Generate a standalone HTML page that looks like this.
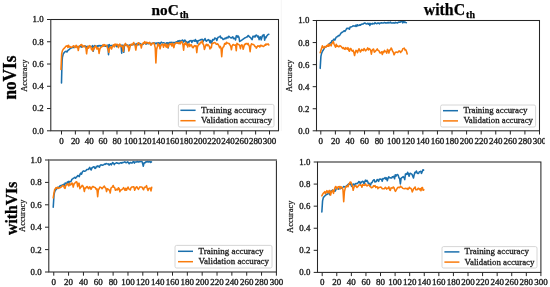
<!DOCTYPE html>
<html><head><meta charset="utf-8"><title>Accuracy curves</title>
<style>
html,body{margin:0;padding:0;background:#fff;}
body{width:550px;height:287px;overflow:hidden;font-family:"Liberation Serif",serif;}
svg{display:block;}
.tk{stroke:#262626;stroke-width:1.0;}
.tl{font-family:"Liberation Serif",serif;font-size:8.4px;fill:#1c1c1c;stroke:#1c1c1c;stroke-width:0.34px;}
.lg{font-family:"Liberation Serif",serif;font-size:8.2px;fill:#1c1c1c;stroke:#1c1c1c;stroke-width:0.28px;}
.yl{font-family:"Liberation Serif",serif;font-size:7.8px;fill:#1c1c1c;stroke:#1c1c1c;stroke-width:0.2px;}
.tt{font-family:"Liberation Serif",serif;font-weight:bold;font-size:15.3px;fill:#000;stroke:#000;stroke-width:0.25px;}
.sub{font-size:10px;}
.sd{font-family:"Liberation Serif",serif;font-weight:bold;font-size:17px;fill:#000;stroke:#000;stroke-width:0.3px;}
</style></head>
<body>
<svg width="550" height="287" viewBox="0 0 550 287">
<defs><clipPath id="c2"><rect x="282" y="0" width="262.8" height="150"/></clipPath></defs>
<rect width="550" height="287" fill="#fff"/>
<g style="opacity:0.999">
<polyline points="61.50,82.90 61.80,70.00 62.10,61.00 62.40,57.40 63.30,53.80 64.50,52.20 65.80,51.30 67.10,52.00 67.70,50.60 69.00,49.60 69.70,49.10 70.39,48.16 71.09,48.04 71.78,47.70 72.47,47.40 73.17,47.47 73.86,47.58 74.55,46.62 75.25,47.02 75.94,46.58 76.63,46.51 77.33,46.59 78.02,46.46 78.71,46.67 79.41,46.75 80.10,46.80 80.79,46.08 81.49,47.10 82.18,46.34 82.87,46.22 83.57,46.41 84.26,46.38 84.95,45.81 85.65,46.79 86.34,48.19 87.03,46.34 87.73,46.66 88.42,46.60 89.11,46.67 89.81,46.07 90.50,46.42 91.19,46.62 91.89,46.59 92.58,45.65 93.27,51.20 93.97,46.73 94.66,45.52 95.35,45.75 96.05,46.32 96.74,46.38 97.43,45.78 98.13,46.31 98.82,45.43 99.51,45.85 100.21,45.43 100.90,46.30 101.59,45.83 102.29,45.39 102.98,45.92 103.67,45.75 104.36,45.46 105.06,46.19 105.75,45.94 106.44,46.32 107.14,45.90 107.83,45.18 108.52,54.80 109.22,44.42 109.91,45.90 110.60,45.73 111.30,45.74 111.99,45.29 112.68,45.79 113.38,45.53 114.07,45.61 114.76,45.72 115.46,45.79 116.15,45.16 116.84,46.82 117.54,45.55 118.23,45.26 118.92,45.45 119.62,45.27 120.31,45.88 121.00,45.14 121.70,53.20 122.39,45.38 123.08,45.28 123.78,52.30 124.47,45.25 125.16,45.44 125.86,44.83 126.55,44.62 127.24,45.25 127.94,45.57 128.63,45.95 129.32,45.06 130.02,45.42 130.71,44.77 131.40,45.01 132.10,44.50 132.79,44.41 133.48,44.62 134.18,44.53 134.87,43.91 135.56,44.87 136.26,44.27 136.95,43.69 137.64,44.72 138.34,44.79 139.03,44.30 139.72,43.27 140.42,43.84 141.11,44.45 141.80,44.42 142.50,44.40 143.19,44.16 143.88,43.22 144.58,43.17 145.27,43.21 145.96,44.12 146.66,43.56 147.35,43.41 148.04,43.62 148.74,43.61 149.43,42.72 150.12,43.53 150.82,43.93 151.51,43.60 152.20,43.21 152.90,43.52 153.59,42.88 154.28,42.90 154.98,42.98 155.67,43.77 156.36,43.22 157.06,42.85 157.75,44.85 158.44,42.74 159.14,42.76 159.83,44.38 160.52,43.01 161.22,42.14 161.91,42.62 162.60,43.07 163.30,42.79 163.99,42.75 164.68,43.35 165.38,43.41 166.07,43.77 166.76,42.83 167.46,42.83 168.15,47.90 168.84,42.95 169.54,42.43 170.23,42.93 170.92,42.25 171.62,42.49 172.31,42.63 173.00,42.44 173.69,43.04 174.39,42.46 175.08,42.63 175.77,43.26 175.91,41.97 176.61,41.70 177.30,42.53 177.99,40.72 178.69,41.15 179.38,40.90 180.07,40.53 180.77,41.89 181.46,41.05 182.15,40.12 182.85,40.30 183.54,41.98 184.23,40.96 184.93,40.01 185.62,41.42 186.31,41.61 187.01,42.77 187.70,43.18 188.39,41.61 189.09,42.10 189.78,40.82 190.47,40.78 191.17,40.52 191.86,42.57 192.55,40.79 193.25,40.59 193.94,40.56 194.63,41.18 195.33,39.55 196.02,41.24 196.71,40.68 197.41,43.20 198.10,40.82 198.79,40.56 199.49,40.19 200.18,40.00 200.87,39.55 201.57,39.63 202.26,39.30 202.95,41.77 203.65,40.11 204.34,39.94 205.03,38.49 205.73,40.41 206.42,41.27 207.11,40.42 207.81,39.99 208.50,39.66 209.19,40.35 209.89,42.46 210.58,40.48 211.27,43.21 211.97,42.12 212.66,39.51 213.35,40.03 214.05,39.65 214.74,37.96 215.43,38.46 216.13,38.54 216.82,40.44 217.51,38.38 218.21,37.20 218.90,37.00 219.59,36.62 220.29,36.09 220.98,38.01 221.68,37.78 222.37,38.40 223.06,39.49 223.76,39.28 224.45,38.73 225.14,38.10 225.84,38.77 226.53,37.62 227.22,37.32 227.92,37.99 228.61,36.20 229.30,36.65 230.00,37.29 230.69,37.73 231.38,37.90 232.08,37.27 232.77,36.80 233.46,38.63 234.16,38.27 234.85,38.33 235.54,39.99 236.24,36.00 236.93,35.61 237.62,37.12 238.32,36.12 239.01,37.61 239.70,41.55 240.40,40.91 241.09,40.63 241.78,40.13 242.48,39.70 243.17,39.17 243.86,38.66 244.56,38.18 245.25,37.69 245.94,37.53 246.64,36.90 247.33,36.88 248.02,35.57 248.72,35.81 249.41,36.87 250.10,37.26 250.80,37.95 251.49,39.01 252.18,39.60 252.88,36.36 253.57,36.67 254.26,35.95 254.96,37.15 255.65,35.52 256.34,35.10 257.04,35.63 257.73,37.06 258.42,36.14 259.12,39.63 259.81,37.35 260.50,36.81 261.20,39.89 261.89,37.43 262.58,35.22 263.28,35.70 263.97,34.69 264.67,40.13 265.36,36.97 266.05,37.76 266.75,35.94 267.44,35.20 268.13,34.48 268.83,34.35" fill="none" stroke="#1b70ad" stroke-width="1.55" stroke-linejoin="round" stroke-linecap="round"/>
<polyline points="60.98,69.58 61.67,53.59 62.37,50.90 63.06,49.52 63.75,48.71 64.45,48.15 65.14,47.22 65.83,46.17 66.52,46.23 67.22,45.68 67.91,47.39 68.60,45.35 69.30,47.01 69.99,46.65 70.68,47.34 71.37,47.23 72.07,47.05 72.76,46.51 73.45,45.80 74.15,46.13 74.84,47.58 75.53,46.17 76.22,45.31 76.92,47.41 77.61,46.85 78.30,50.49 79.00,46.51 79.69,45.70 80.38,45.31 81.07,44.68 81.77,44.56 82.46,47.10 83.15,46.17 83.84,45.96 84.54,45.79 85.23,47.08 85.92,48.12 86.62,53.79 87.31,48.13 88.00,46.35 88.69,48.16 89.39,45.65 90.08,46.57 90.77,46.33 91.47,49.68 92.16,48.64 92.85,50.93 93.54,47.72 94.24,48.94 94.93,46.58 95.62,45.89 96.32,47.02 97.01,49.09 97.70,47.77 98.39,48.39 99.09,53.36 99.78,49.39 100.47,47.91 101.16,47.23 101.86,46.68 102.55,46.35 103.24,44.64 103.94,46.06 104.63,44.67 105.32,45.11 106.01,45.40 106.71,45.33 107.40,47.82 108.09,49.26 108.79,52.27 109.48,48.49 110.17,47.28 110.86,46.92 111.56,49.07 112.25,46.99 112.94,45.68 113.64,44.73 114.33,46.93 115.02,43.98 115.71,45.11 116.41,44.40 117.10,44.18 117.79,45.06 118.49,47.63 119.18,44.98 119.87,44.07 120.56,46.25 121.26,46.41 121.95,45.69 122.64,47.51 123.33,51.40 124.03,45.56 124.72,44.76 125.41,43.38 126.11,45.18 126.80,44.94 127.49,46.72 128.18,45.61 128.88,51.04 129.57,48.91 130.26,45.82 130.96,44.31 131.65,44.35 132.34,45.00 133.03,43.59 133.73,42.50 134.42,44.26 135.11,45.69 135.81,50.02 136.50,46.12 137.19,44.36 137.88,43.17 138.58,42.75 139.27,43.67 139.96,44.98 140.66,44.75 141.35,47.97 142.04,44.37 142.73,43.74 143.43,42.68 144.12,43.33 144.81,41.65 145.50,43.65 146.20,42.29 146.89,42.69 147.58,42.56 148.28,43.15 148.97,43.25 149.66,42.32 150.35,44.39 151.05,45.23 151.74,44.04 152.43,43.20 153.13,43.32 153.82,42.87 154.51,44.60 155.20,47.79 155.90,63.03 156.59,49.47 157.28,46.78 157.98,43.54 158.67,45.70 159.36,44.92 160.05,48.82 160.75,46.09 161.44,44.65 162.13,44.09 162.83,44.50 163.52,47.31 164.21,44.69 164.90,43.82 165.60,45.78 166.29,47.08 166.98,44.29 167.67,47.56 168.37,46.82 169.06,44.36 169.75,43.88 170.45,44.54 171.14,43.80 171.83,46.06 172.52,43.25 173.22,45.71 173.91,47.64 174.60,44.01 175.30,43.73 175.99,42.62 176.68,42.65 177.37,43.20 178.07,42.77 178.76,43.61 179.45,42.73 180.15,43.92 180.84,42.09 181.53,41.57 182.22,42.60 182.92,44.71 183.61,50.19 184.30,43.77 185.00,44.29 185.69,42.24 186.38,44.87 187.07,44.07 187.77,47.06 188.46,44.33 189.15,43.87 189.84,46.56 190.54,44.97 191.23,44.69 191.92,46.08 192.62,47.60 193.31,47.68 194.00,46.07 194.69,45.56 195.39,46.14 196.08,45.69 196.77,52.60 197.47,46.99 198.16,45.30 198.85,43.92 199.54,44.38 200.24,42.86 200.93,42.14 201.62,42.76 202.32,40.92 203.01,44.03 203.70,45.04 204.39,49.46 205.09,47.42 205.78,45.14 206.47,44.25 207.17,45.76 207.86,44.49 208.55,45.68 209.24,46.08 209.94,48.90 210.63,47.42 211.32,47.81 212.01,43.38 212.71,43.44 213.40,43.08 214.09,42.50 214.79,42.73 215.48,42.95 216.17,44.13 216.86,44.30 217.56,43.80 218.25,44.73 218.94,45.98 219.64,47.72 220.33,46.43 221.02,48.13 221.71,56.71 222.41,48.65 223.10,47.22 223.79,46.67 224.49,43.94 225.18,43.31 225.87,44.20 226.56,42.28 227.26,43.10 227.95,43.16 228.64,43.66 229.34,43.54 230.03,45.18 230.72,46.19 231.41,49.73 232.11,45.83 232.80,44.78 233.49,44.48 234.18,45.25 234.88,45.29 235.57,44.90 236.26,50.68 236.96,43.36 237.65,43.83 238.34,44.33 239.03,44.80 239.73,45.51 240.42,48.69 241.11,45.35 241.81,44.72 242.50,45.86 243.19,49.25 243.88,46.77 244.58,44.33 245.27,44.58 245.96,43.51 246.66,43.59 247.35,44.34 248.04,43.31 248.73,45.18 249.43,46.34 250.12,51.77 250.81,45.72 251.51,43.69 252.20,44.25 252.89,44.49 253.58,44.45 254.28,45.37 254.97,46.50 255.66,46.44 256.35,48.10 257.05,47.05 257.74,45.79 258.43,46.23 259.13,45.88 259.82,47.01 260.51,45.24 261.20,46.00 261.90,45.40 262.59,46.16 263.28,46.50 263.98,46.22 264.67,44.96 265.36,45.29 266.05,43.93 266.75,44.67 267.44,44.23 268.13,43.84 268.83,45.01" fill="none" stroke="#f97b0c" stroke-width="1.55" stroke-linejoin="round" stroke-linecap="round"/>
<rect x="178.40" y="104.40" width="95.60" height="22.60" rx="1.6" ry="1.6" fill="#fff" fill-opacity="0.8" stroke="#cccccc" stroke-width="0.8"/>
<line x1="180.40" y1="110.30" x2="195.60" y2="110.30" stroke="#1b70ad" stroke-width="1.5"/>
<line x1="180.40" y1="120.70" x2="195.60" y2="120.70" stroke="#f97b0c" stroke-width="1.5"/>
<text x="201.00" y="112.70" class="lg" textLength="65.40" lengthAdjust="spacingAndGlyphs">Training accuracy</text>
<text x="201.00" y="122.90" class="lg" textLength="71.00" lengthAdjust="spacingAndGlyphs">Validation accuracy</text>
<rect x="50.80" y="19.50" width="227.70" height="111.30" fill="none" stroke="#262626" stroke-width="1.05"/>
<line x1="47.00" y1="130.80" x2="50.80" y2="130.80" class="tk"/>
<text transform="translate(43.60,133.75) scale(1.05,1)" class="tl" text-anchor="end">0.0</text>
<line x1="47.00" y1="108.54" x2="50.80" y2="108.54" class="tk"/>
<text transform="translate(43.60,111.49) scale(1.05,1)" class="tl" text-anchor="end">0.2</text>
<line x1="47.00" y1="86.28" x2="50.80" y2="86.28" class="tk"/>
<text transform="translate(43.60,89.23) scale(1.05,1)" class="tl" text-anchor="end">0.4</text>
<line x1="47.00" y1="64.02" x2="50.80" y2="64.02" class="tk"/>
<text transform="translate(43.60,66.97) scale(1.05,1)" class="tl" text-anchor="end">0.6</text>
<line x1="47.00" y1="41.76" x2="50.80" y2="41.76" class="tk"/>
<text transform="translate(43.60,44.71) scale(1.05,1)" class="tl" text-anchor="end">0.8</text>
<line x1="47.00" y1="19.50" x2="50.80" y2="19.50" class="tk"/>
<text transform="translate(43.60,22.45) scale(1.05,1)" class="tl" text-anchor="end">1.0</text>
<line x1="61.50" y1="130.80" x2="61.50" y2="134.50" class="tk"/>
<text transform="translate(61.50,143.50) scale(1.07,1)" class="tl" text-anchor="middle">0</text>
<line x1="75.37" y1="130.80" x2="75.37" y2="134.50" class="tk"/>
<text transform="translate(75.37,143.50) scale(1.07,1)" class="tl" text-anchor="middle">20</text>
<line x1="89.23" y1="130.80" x2="89.23" y2="134.50" class="tk"/>
<text transform="translate(89.23,143.50) scale(1.07,1)" class="tl" text-anchor="middle">40</text>
<line x1="103.10" y1="130.80" x2="103.10" y2="134.50" class="tk"/>
<text transform="translate(103.10,143.50) scale(1.07,1)" class="tl" text-anchor="middle">60</text>
<line x1="116.97" y1="130.80" x2="116.97" y2="134.50" class="tk"/>
<text transform="translate(116.97,143.50) scale(1.07,1)" class="tl" text-anchor="middle">80</text>
<line x1="130.83" y1="130.80" x2="130.83" y2="134.50" class="tk"/>
<text transform="translate(130.83,143.50) scale(1.07,1)" class="tl" text-anchor="middle">100</text>
<line x1="144.70" y1="130.80" x2="144.70" y2="134.50" class="tk"/>
<text transform="translate(144.70,143.50) scale(1.07,1)" class="tl" text-anchor="middle">120</text>
<line x1="158.57" y1="130.80" x2="158.57" y2="134.50" class="tk"/>
<text transform="translate(158.57,143.50) scale(1.07,1)" class="tl" text-anchor="middle">140</text>
<line x1="172.43" y1="130.80" x2="172.43" y2="134.50" class="tk"/>
<text transform="translate(172.43,143.50) scale(1.07,1)" class="tl" text-anchor="middle">160</text>
<line x1="186.30" y1="130.80" x2="186.30" y2="134.50" class="tk"/>
<text transform="translate(186.30,143.50) scale(1.07,1)" class="tl" text-anchor="middle">180</text>
<line x1="200.17" y1="130.80" x2="200.17" y2="134.50" class="tk"/>
<text transform="translate(200.17,143.50) scale(1.07,1)" class="tl" text-anchor="middle">200</text>
<line x1="214.03" y1="130.80" x2="214.03" y2="134.50" class="tk"/>
<text transform="translate(214.03,143.50) scale(1.07,1)" class="tl" text-anchor="middle">220</text>
<line x1="227.90" y1="130.80" x2="227.90" y2="134.50" class="tk"/>
<text transform="translate(227.90,143.50) scale(1.07,1)" class="tl" text-anchor="middle">240</text>
<line x1="241.77" y1="130.80" x2="241.77" y2="134.50" class="tk"/>
<text transform="translate(241.77,143.50) scale(1.07,1)" class="tl" text-anchor="middle">260</text>
<line x1="255.63" y1="130.80" x2="255.63" y2="134.50" class="tk"/>
<text transform="translate(255.63,143.50) scale(1.07,1)" class="tl" text-anchor="middle">280</text>
<line x1="269.50" y1="130.80" x2="269.50" y2="134.50" class="tk"/>
<text transform="translate(269.50,143.50) scale(1.07,1)" class="tl" text-anchor="middle">300</text>
<text transform="translate(27.00,75.60) rotate(-90)" class="yl" text-anchor="middle" textLength="32.3" lengthAdjust="spacingAndGlyphs">Accuracy</text>
<g clip-path="url(#c2)"><polyline points="320.18,68.35 320.91,56.33 321.64,53.19 322.38,51.45 323.11,50.23 323.84,49.18 324.57,47.66 325.30,47.00 326.03,46.63 326.76,45.73 327.49,45.67 328.22,46.13 328.95,44.05 329.68,43.65 330.41,42.66 331.14,42.79 331.87,40.87 332.60,40.79 333.33,39.87 334.06,39.17 334.79,40.07 335.52,38.56 336.25,37.17 336.98,36.83 337.71,36.54 338.45,35.44 339.18,35.68 339.91,34.95 340.64,33.72 341.37,32.60 342.10,32.45 342.83,31.90 343.56,31.27 344.29,30.73 345.02,31.34 345.75,30.17 346.48,28.90 347.21,28.17 347.94,28.53 348.67,28.25 349.40,29.18 350.13,27.09 350.86,26.96 351.59,26.77 352.32,26.40 353.05,25.84 353.78,25.99 354.51,25.94 355.25,26.40 355.98,24.99 356.71,26.43 357.44,24.71 358.17,25.49 358.90,25.52 359.63,24.83 360.36,25.26 361.09,24.37 361.82,24.36 362.55,23.96 363.28,23.97 364.01,23.25 364.74,22.96 365.47,23.19 366.20,23.93 366.93,23.84 367.66,23.25 368.39,24.15 369.12,23.42 369.85,25.56 370.58,23.47 371.32,23.82 372.05,24.12 372.78,23.35 373.51,23.76 374.24,23.85 374.97,22.68 375.70,23.29 376.43,23.69 377.16,23.45 377.89,23.04 378.62,22.99 379.35,23.86 380.08,23.05 380.81,22.94 381.54,22.81 382.27,22.98 383.00,22.93 383.73,22.96 384.46,22.50 385.19,22.91 385.92,22.68 386.65,23.06 387.39,22.88 388.12,22.23 388.85,22.98 389.58,22.54 390.31,22.05 391.04,22.88 391.77,23.08 392.50,22.95 393.23,22.70 393.96,23.07 394.69,23.10 395.42,22.39 396.15,22.71 396.88,22.74 397.61,22.99 398.34,22.20 399.07,21.96 399.80,22.22 400.53,21.92 401.26,21.25 401.99,21.24 402.72,22.88 403.45,21.00 404.19,22.44 404.92,22.06 405.65,22.43 406.38,22.76" fill="none" stroke="#1b70ad" stroke-width="1.55" stroke-linejoin="round" stroke-linecap="round"/>
<polyline points="320.18,52.66 320.92,50.25 321.65,48.06 322.38,45.75 323.11,47.21 323.84,48.20 324.57,46.54 325.30,46.81 326.03,47.15 326.77,45.45 327.50,46.23 328.23,44.32 328.96,46.08 329.69,44.38 330.42,44.68 331.15,45.84 331.89,43.16 332.62,42.91 333.35,41.46 334.08,44.24 334.81,45.67 335.54,47.29 336.27,44.23 337.00,46.31 337.74,45.89 338.47,46.68 339.20,46.63 339.93,45.65 340.66,46.11 341.39,46.79 342.12,47.66 342.86,48.55 343.59,47.59 344.32,48.99 345.05,49.36 345.78,47.67 346.51,48.45 347.24,49.18 347.97,47.62 348.71,50.22 349.44,51.29 350.17,48.54 350.90,48.49 351.63,50.51 352.36,51.11 353.09,50.20 353.83,52.40 354.56,55.48 355.29,52.21 356.02,50.38 356.75,50.72 357.48,52.66 358.21,50.57 358.95,48.69 359.68,50.09 360.41,51.93 361.14,50.91 361.87,49.36 362.60,50.31 363.33,50.59 364.06,48.59 364.80,49.45 365.53,50.92 366.26,50.10 366.99,49.14 367.72,47.92 368.45,49.92 369.18,48.61 369.92,49.14 370.65,50.36 371.38,54.12 372.11,50.35 372.84,49.41 373.57,49.04 374.30,52.14 375.03,51.60 375.77,50.86 376.50,49.87 377.23,48.94 377.96,50.28 378.69,50.44 379.42,51.77 380.15,53.06 380.89,52.73 381.62,51.87 382.35,54.50 383.08,51.59 383.81,52.35 384.54,50.41 385.27,51.59 386.00,51.61 386.74,53.22 387.47,49.40 388.20,50.53 388.93,53.10 389.66,50.12 390.39,50.01 391.12,47.94 391.86,49.20 392.59,51.32 393.32,52.19 394.05,54.79 394.78,53.41 395.51,52.20 396.24,52.12 396.97,52.22 397.71,52.51 398.44,51.62 399.17,50.85 399.90,51.19 400.63,52.55 401.36,51.39 402.09,50.80 402.83,48.74 403.56,48.53 404.29,48.09 405.02,50.11 405.75,49.69 406.48,51.38 407.21,54.06" fill="none" stroke="#f97b0c" stroke-width="1.55" stroke-linejoin="round" stroke-linecap="round"/>
<rect x="440.60" y="105.00" width="95.00" height="22.00" rx="1.6" ry="1.6" fill="#fff" fill-opacity="0.8" stroke="#cccccc" stroke-width="0.8"/>
<line x1="443.00" y1="110.70" x2="458.00" y2="110.70" stroke="#1b70ad" stroke-width="1.5"/>
<line x1="443.00" y1="120.90" x2="458.00" y2="120.90" stroke="#f97b0c" stroke-width="1.5"/>
<text x="463.40" y="112.90" class="lg" textLength="64.00" lengthAdjust="spacingAndGlyphs">Training accuracy</text>
<text x="463.40" y="123.30" class="lg" textLength="69.60" lengthAdjust="spacingAndGlyphs">Validation accuracy</text>
<rect x="316.50" y="20.50" width="223.00" height="110.30" fill="none" stroke="#262626" stroke-width="1.05"/>
<line x1="312.70" y1="130.80" x2="316.50" y2="130.80" class="tk"/>
<text transform="translate(309.30,133.75) scale(1.05,1)" class="tl" text-anchor="end">0.0</text>
<line x1="312.70" y1="108.74" x2="316.50" y2="108.74" class="tk"/>
<text transform="translate(309.30,111.69) scale(1.05,1)" class="tl" text-anchor="end">0.2</text>
<line x1="312.70" y1="86.68" x2="316.50" y2="86.68" class="tk"/>
<text transform="translate(309.30,89.63) scale(1.05,1)" class="tl" text-anchor="end">0.4</text>
<line x1="312.70" y1="64.62" x2="316.50" y2="64.62" class="tk"/>
<text transform="translate(309.30,67.57) scale(1.05,1)" class="tl" text-anchor="end">0.6</text>
<line x1="312.70" y1="42.56" x2="316.50" y2="42.56" class="tk"/>
<text transform="translate(309.30,45.51) scale(1.05,1)" class="tl" text-anchor="end">0.8</text>
<line x1="312.70" y1="20.50" x2="316.50" y2="20.50" class="tk"/>
<text transform="translate(309.30,23.45) scale(1.05,1)" class="tl" text-anchor="end">1.0</text>
<line x1="320.80" y1="130.80" x2="320.80" y2="134.50" class="tk"/>
<text transform="translate(320.80,143.50) scale(1.07,1)" class="tl" text-anchor="middle">0</text>
<line x1="335.38" y1="130.80" x2="335.38" y2="134.50" class="tk"/>
<text transform="translate(335.38,143.50) scale(1.07,1)" class="tl" text-anchor="middle">20</text>
<line x1="349.96" y1="130.80" x2="349.96" y2="134.50" class="tk"/>
<text transform="translate(349.96,143.50) scale(1.07,1)" class="tl" text-anchor="middle">40</text>
<line x1="364.54" y1="130.80" x2="364.54" y2="134.50" class="tk"/>
<text transform="translate(364.54,143.50) scale(1.07,1)" class="tl" text-anchor="middle">60</text>
<line x1="379.12" y1="130.80" x2="379.12" y2="134.50" class="tk"/>
<text transform="translate(379.12,143.50) scale(1.07,1)" class="tl" text-anchor="middle">80</text>
<line x1="393.70" y1="130.80" x2="393.70" y2="134.50" class="tk"/>
<text transform="translate(393.70,143.50) scale(1.07,1)" class="tl" text-anchor="middle">100</text>
<line x1="408.28" y1="130.80" x2="408.28" y2="134.50" class="tk"/>
<text transform="translate(408.28,143.50) scale(1.07,1)" class="tl" text-anchor="middle">120</text>
<line x1="422.86" y1="130.80" x2="422.86" y2="134.50" class="tk"/>
<text transform="translate(422.86,143.50) scale(1.07,1)" class="tl" text-anchor="middle">140</text>
<line x1="437.44" y1="130.80" x2="437.44" y2="134.50" class="tk"/>
<text transform="translate(437.44,143.50) scale(1.07,1)" class="tl" text-anchor="middle">160</text>
<line x1="452.02" y1="130.80" x2="452.02" y2="134.50" class="tk"/>
<text transform="translate(452.02,143.50) scale(1.07,1)" class="tl" text-anchor="middle">180</text>
<line x1="466.60" y1="130.80" x2="466.60" y2="134.50" class="tk"/>
<text transform="translate(466.60,143.50) scale(1.07,1)" class="tl" text-anchor="middle">200</text>
<line x1="481.18" y1="130.80" x2="481.18" y2="134.50" class="tk"/>
<text transform="translate(481.18,143.50) scale(1.07,1)" class="tl" text-anchor="middle">220</text>
<line x1="495.76" y1="130.80" x2="495.76" y2="134.50" class="tk"/>
<text transform="translate(495.76,143.50) scale(1.07,1)" class="tl" text-anchor="middle">240</text>
<line x1="510.34" y1="130.80" x2="510.34" y2="134.50" class="tk"/>
<text transform="translate(510.34,143.50) scale(1.07,1)" class="tl" text-anchor="middle">260</text>
<line x1="524.92" y1="130.80" x2="524.92" y2="134.50" class="tk"/>
<text transform="translate(524.92,143.50) scale(1.07,1)" class="tl" text-anchor="middle">280</text>
<line x1="539.50" y1="130.80" x2="539.50" y2="134.50" class="tk"/>
<text transform="translate(539.50,143.50) scale(1.07,1)" class="tl" text-anchor="middle">300</text>
<text transform="translate(292.00,75.90) rotate(-90)" class="yl" text-anchor="middle" textLength="32.3" lengthAdjust="spacingAndGlyphs">Accuracy</text></g>
<polyline points="53.23,207.28 53.97,195.19 54.72,191.55 55.46,190.31 56.21,189.28 56.95,188.63 57.70,187.54 58.44,187.29 59.18,187.18 59.93,185.97 60.67,185.55 61.42,185.62 62.16,185.00 62.91,184.91 63.65,184.27 64.40,185.22 65.14,183.07 65.89,183.22 66.63,183.92 67.38,181.91 68.12,183.05 68.86,181.31 69.61,182.19 70.35,181.61 71.10,181.27 71.84,179.40 72.59,178.85 73.33,178.22 74.08,177.87 74.82,177.24 75.57,178.21 76.31,177.29 77.05,176.59 77.80,175.45 78.54,175.97 79.29,176.60 80.03,174.26 80.78,173.05 81.52,174.22 82.27,172.13 83.01,171.21 83.76,170.89 84.50,171.20 85.25,170.93 85.99,170.59 86.73,169.53 87.48,169.59 88.22,169.43 88.97,168.63 89.71,167.35 90.46,169.17 91.20,169.94 91.95,167.79 92.69,167.45 93.44,166.77 94.18,166.75 94.92,168.48 95.67,168.35 96.41,166.38 97.16,166.69 97.90,165.88 98.65,166.40 99.39,167.28 100.14,165.36 100.88,164.88 101.63,165.03 102.37,165.31 103.12,165.10 103.86,164.69 104.60,164.03 105.35,164.36 106.09,163.47 106.84,163.73 107.58,163.93 108.33,163.86 109.07,165.18 109.82,164.19 110.56,163.78 111.31,164.90 112.05,163.53 112.79,162.58 113.54,163.44 114.28,164.58 115.03,163.41 115.77,163.13 116.52,162.72 117.26,163.17 118.01,163.11 118.75,163.60 119.50,163.52 120.24,162.84 120.99,162.64 121.73,163.25 122.47,162.64 123.22,162.54 123.96,162.26 124.71,161.87 125.45,162.24 126.20,162.75 126.94,162.35 127.69,161.84 128.43,162.69 129.18,163.76 129.92,162.78 130.66,162.47 131.41,163.01 132.15,162.94 132.90,161.84 133.64,161.46 134.39,163.07 135.13,162.02 135.88,162.05 136.62,161.91 137.37,161.01 138.11,162.09 138.86,161.91 139.60,161.37 140.34,161.73 141.09,161.22 141.83,161.27 142.58,163.42 143.32,166.20 144.07,162.71 144.81,163.07 145.56,162.00 146.30,161.79 147.05,162.03 147.79,161.04 148.53,161.93 149.28,161.89 150.02,161.41 150.77,162.45 151.51,161.90" fill="none" stroke="#1b70ad" stroke-width="1.55" stroke-linejoin="round" stroke-linecap="round"/>
<polyline points="53.23,197.87 53.97,193.12 54.71,189.48 55.45,188.54 56.19,187.52 56.93,188.09 57.67,187.37 58.41,188.37 59.15,188.01 59.89,187.76 60.63,187.28 61.37,186.77 62.11,186.18 62.86,185.46 63.60,185.64 64.34,187.79 65.08,188.32 65.82,185.23 66.56,185.01 67.30,183.92 68.04,184.61 68.78,185.94 69.52,183.22 70.26,184.98 71.00,184.59 71.74,183.05 72.48,183.43 73.22,187.11 73.96,184.31 74.70,183.28 75.44,182.49 76.19,181.69 76.93,182.20 77.67,186.69 78.41,183.58 79.15,183.35 79.89,188.65 80.63,187.25 81.37,186.88 82.11,185.32 82.85,185.82 83.59,187.54 84.33,191.48 85.07,187.97 85.81,188.13 86.55,186.80 87.29,186.59 88.03,188.02 88.77,188.79 89.52,186.87 90.26,187.20 91.00,189.37 91.74,187.96 92.48,186.59 93.22,186.52 93.96,187.31 94.70,187.36 95.44,187.74 96.18,189.39 96.92,188.72 97.66,196.63 98.40,189.96 99.14,188.76 99.88,187.06 100.62,187.38 101.36,187.71 102.10,188.71 102.85,187.65 103.59,186.74 104.33,186.09 105.07,187.60 105.81,188.14 106.55,191.60 107.29,188.75 108.03,189.11 108.77,189.84 109.51,190.12 110.25,193.00 110.99,188.13 111.73,187.49 112.47,186.91 113.21,185.44 113.95,187.35 114.69,187.65 115.43,190.31 116.18,189.82 116.92,189.17 117.66,189.85 118.40,187.72 119.14,188.46 119.88,191.78 120.62,189.93 121.36,189.99 122.10,189.35 122.84,188.72 123.58,187.63 124.32,189.02 125.06,190.42 125.80,188.24 126.54,190.15 127.28,188.48 128.02,187.00 128.76,188.76 129.51,189.32 130.25,189.92 130.99,187.80 131.73,187.07 132.47,186.96 133.21,186.71 133.95,187.07 134.69,190.33 135.43,188.45 136.17,187.13 136.91,186.77 137.65,188.39 138.39,189.37 139.13,188.10 139.87,186.84 140.61,186.91 141.35,187.05 142.10,187.20 142.84,188.79 143.58,189.80 144.32,187.39 145.06,187.43 145.80,186.86 146.54,185.68 147.28,188.63 148.02,190.52 148.76,188.51 149.50,188.30 150.24,188.04 150.98,190.90 151.72,187.32" fill="none" stroke="#f97b0c" stroke-width="1.55" stroke-linejoin="round" stroke-linecap="round"/>
<rect x="175.00" y="245.40" width="97.00" height="22.60" rx="1.6" ry="1.6" fill="#fff" fill-opacity="0.8" stroke="#cccccc" stroke-width="0.8"/>
<line x1="178.00" y1="251.30" x2="193.00" y2="251.30" stroke="#1b70ad" stroke-width="1.5"/>
<line x1="178.00" y1="261.70" x2="193.00" y2="261.70" stroke="#f97b0c" stroke-width="1.5"/>
<text x="198.60" y="253.70" class="lg" textLength="64.80" lengthAdjust="spacingAndGlyphs">Training accuracy</text>
<text x="198.60" y="263.90" class="lg" textLength="70.40" lengthAdjust="spacingAndGlyphs">Validation accuracy</text>
<rect x="48.80" y="160.00" width="227.60" height="112.00" fill="none" stroke="#262626" stroke-width="1.05"/>
<line x1="48.30" y1="160.00" x2="276.90" y2="160.00" stroke="#8a8a8a" stroke-width="1.3"/>
<line x1="45.00" y1="272.00" x2="48.80" y2="272.00" class="tk"/>
<text transform="translate(41.60,274.95) scale(1.05,1)" class="tl" text-anchor="end">0.0</text>
<line x1="45.00" y1="249.60" x2="48.80" y2="249.60" class="tk"/>
<text transform="translate(41.60,252.55) scale(1.05,1)" class="tl" text-anchor="end">0.2</text>
<line x1="45.00" y1="227.20" x2="48.80" y2="227.20" class="tk"/>
<text transform="translate(41.60,230.15) scale(1.05,1)" class="tl" text-anchor="end">0.4</text>
<line x1="45.00" y1="204.80" x2="48.80" y2="204.80" class="tk"/>
<text transform="translate(41.60,207.75) scale(1.05,1)" class="tl" text-anchor="end">0.6</text>
<line x1="45.00" y1="182.40" x2="48.80" y2="182.40" class="tk"/>
<text transform="translate(41.60,185.35) scale(1.05,1)" class="tl" text-anchor="end">0.8</text>
<line x1="45.00" y1="160.00" x2="48.80" y2="160.00" class="tk"/>
<text transform="translate(41.60,162.95) scale(1.05,1)" class="tl" text-anchor="end">1.0</text>
<line x1="53.75" y1="272.00" x2="53.75" y2="275.70" class="tk"/>
<text transform="translate(53.75,284.70) scale(1.07,1)" class="tl" text-anchor="middle">0</text>
<line x1="68.59" y1="272.00" x2="68.59" y2="275.70" class="tk"/>
<text transform="translate(68.59,284.70) scale(1.07,1)" class="tl" text-anchor="middle">20</text>
<line x1="83.44" y1="272.00" x2="83.44" y2="275.70" class="tk"/>
<text transform="translate(83.44,284.70) scale(1.07,1)" class="tl" text-anchor="middle">40</text>
<line x1="98.28" y1="272.00" x2="98.28" y2="275.70" class="tk"/>
<text transform="translate(98.28,284.70) scale(1.07,1)" class="tl" text-anchor="middle">60</text>
<line x1="113.12" y1="272.00" x2="113.12" y2="275.70" class="tk"/>
<text transform="translate(113.12,284.70) scale(1.07,1)" class="tl" text-anchor="middle">80</text>
<line x1="127.97" y1="272.00" x2="127.97" y2="275.70" class="tk"/>
<text transform="translate(127.97,284.70) scale(1.07,1)" class="tl" text-anchor="middle">100</text>
<line x1="142.81" y1="272.00" x2="142.81" y2="275.70" class="tk"/>
<text transform="translate(142.81,284.70) scale(1.07,1)" class="tl" text-anchor="middle">120</text>
<line x1="157.65" y1="272.00" x2="157.65" y2="275.70" class="tk"/>
<text transform="translate(157.65,284.70) scale(1.07,1)" class="tl" text-anchor="middle">140</text>
<line x1="172.50" y1="272.00" x2="172.50" y2="275.70" class="tk"/>
<text transform="translate(172.50,284.70) scale(1.07,1)" class="tl" text-anchor="middle">160</text>
<line x1="187.34" y1="272.00" x2="187.34" y2="275.70" class="tk"/>
<text transform="translate(187.34,284.70) scale(1.07,1)" class="tl" text-anchor="middle">180</text>
<line x1="202.18" y1="272.00" x2="202.18" y2="275.70" class="tk"/>
<text transform="translate(202.18,284.70) scale(1.07,1)" class="tl" text-anchor="middle">200</text>
<line x1="217.03" y1="272.00" x2="217.03" y2="275.70" class="tk"/>
<text transform="translate(217.03,284.70) scale(1.07,1)" class="tl" text-anchor="middle">220</text>
<line x1="231.87" y1="272.00" x2="231.87" y2="275.70" class="tk"/>
<text transform="translate(231.87,284.70) scale(1.07,1)" class="tl" text-anchor="middle">240</text>
<line x1="246.71" y1="272.00" x2="246.71" y2="275.70" class="tk"/>
<text transform="translate(246.71,284.70) scale(1.07,1)" class="tl" text-anchor="middle">260</text>
<line x1="261.56" y1="272.00" x2="261.56" y2="275.70" class="tk"/>
<text transform="translate(261.56,284.70) scale(1.07,1)" class="tl" text-anchor="middle">280</text>
<line x1="276.40" y1="272.00" x2="276.40" y2="275.70" class="tk"/>
<text transform="translate(276.40,284.70) scale(1.07,1)" class="tl" text-anchor="middle">300</text>
<text transform="translate(24.50,215.80) rotate(-90)" class="yl" text-anchor="middle" textLength="32.3" lengthAdjust="spacingAndGlyphs">Accuracy</text>
<polyline points="321.84,212.04 322.56,200.84 323.29,197.77 324.02,196.75 324.75,196.02 325.47,195.40 326.20,194.53 326.93,194.38 327.65,193.97 328.38,193.47 329.11,193.36 329.84,194.78 330.56,191.22 331.29,192.12 332.02,190.37 332.75,190.10 333.47,191.12 334.20,191.22 334.93,191.28 335.65,190.22 336.38,188.19 337.11,188.02 337.84,188.68 338.56,189.10 339.29,188.49 340.02,188.40 340.75,188.51 341.47,187.61 342.20,187.97 342.93,187.29 343.65,186.49 344.38,186.88 345.11,186.85 345.84,186.83 346.56,185.59 347.29,185.62 348.02,184.56 348.75,183.89 349.47,184.29 350.20,183.29 350.93,184.74 351.65,186.35 352.38,185.01 353.11,184.02 353.84,184.49 354.56,186.14 355.29,183.76 356.02,183.53 356.74,183.61 357.47,183.45 358.20,182.58 358.93,181.54 359.65,182.01 360.38,184.10 361.11,182.10 361.84,182.11 362.56,181.28 363.29,181.60 364.02,183.88 364.74,181.80 365.47,180.14 366.20,181.44 366.93,180.44 367.65,181.38 368.38,183.52 369.11,183.22 369.84,185.35 370.56,185.03 371.29,182.76 372.02,182.72 372.74,181.01 373.47,180.16 374.20,179.73 374.93,181.92 375.65,181.74 376.38,181.26 377.11,179.56 377.84,179.89 378.56,181.41 379.29,179.18 380.02,179.07 380.74,179.33 381.47,179.32 382.20,181.28 382.93,178.56 383.65,178.82 384.38,178.40 385.11,177.60 385.84,179.21 386.56,177.83 387.29,180.81 388.02,178.30 388.74,176.80 389.47,177.71 390.20,177.76 390.93,178.08 391.65,178.08 392.38,176.67 393.11,176.90 393.83,176.21 394.56,178.76 395.29,174.69 396.02,176.17 396.74,174.88 397.47,174.44 398.20,175.23 398.93,177.86 399.65,178.53 400.38,183.87 401.11,178.33 401.83,177.65 402.56,177.30 403.29,176.65 404.02,177.48 404.74,179.60 405.47,173.90 406.20,173.81 406.93,174.37 407.65,172.32 408.38,173.92 409.11,176.33 409.83,173.60 410.56,173.33 411.29,173.80 412.02,174.28 412.74,176.28 413.47,177.99 414.20,174.66 414.93,172.29 415.65,172.69 416.38,170.98 417.11,172.87 417.83,173.49 418.56,173.47 419.29,171.85 420.02,171.63 420.74,171.27 421.47,173.38 422.20,171.64 422.93,169.70 423.65,170.18" fill="none" stroke="#1b70ad" stroke-width="1.55" stroke-linejoin="round" stroke-linecap="round"/>
<polyline points="321.84,195.83 322.57,194.37 323.29,193.23 324.02,192.62 324.75,191.63 325.48,193.68 326.21,192.01 326.94,190.59 327.67,192.57 328.40,192.78 329.12,190.45 329.85,190.59 330.58,195.06 331.31,192.24 332.04,191.27 332.77,190.07 333.50,193.34 334.23,190.17 334.95,187.66 335.68,186.51 336.41,187.34 337.14,189.02 337.87,187.01 338.60,186.73 339.33,186.60 340.06,188.84 340.79,186.67 341.51,187.37 342.24,187.79 342.97,189.81 343.70,201.73 344.43,191.69 345.16,188.57 345.89,186.54 346.62,186.67 347.34,185.90 348.07,186.71 348.80,184.21 349.53,183.31 350.26,181.92 350.99,182.15 351.72,184.40 352.45,186.22 353.17,190.24 353.90,187.27 354.63,186.43 355.36,185.43 356.09,185.90 356.82,187.52 357.55,186.97 358.28,186.12 359.01,184.88 359.73,184.94 360.46,185.34 361.19,185.39 361.92,187.19 362.65,184.49 363.38,185.12 364.11,185.40 364.84,184.98 365.56,183.86 366.29,185.34 367.02,185.97 367.75,185.32 368.48,185.09 369.21,185.00 369.94,186.49 370.67,186.66 371.39,187.77 372.12,187.45 372.85,187.11 373.58,185.72 374.31,186.22 375.04,185.54 375.77,187.45 376.50,186.79 377.23,186.82 377.95,188.65 378.68,187.40 379.41,187.58 380.14,187.28 380.87,187.07 381.60,187.79 382.33,188.83 383.06,188.78 383.78,188.84 384.51,188.68 385.24,187.27 385.97,187.77 386.70,189.11 387.43,188.19 388.16,188.14 388.89,186.86 389.61,189.83 390.34,190.38 391.07,187.87 391.80,188.01 392.53,188.10 393.26,187.00 393.99,187.65 394.72,189.85 395.45,191.38 396.17,190.11 396.90,188.88 397.63,187.65 398.36,187.24 399.09,187.67 399.82,187.38 400.55,186.12 401.28,187.02 402.00,187.33 402.73,188.36 403.46,188.55 404.19,188.69 404.92,188.44 405.65,188.36 406.38,188.83 407.11,188.22 407.83,189.47 408.56,188.76 409.29,187.25 410.02,188.31 410.75,188.25 411.48,189.16 412.21,191.89 412.94,190.51 413.67,188.56 414.39,188.19 415.12,187.00 415.85,189.77 416.58,189.70 417.31,189.74 418.04,188.35 418.77,188.31 419.50,189.69 420.22,188.64 420.95,190.75 421.68,187.97 422.41,187.45 423.14,190.25 423.87,189.75" fill="none" stroke="#f97b0c" stroke-width="1.55" stroke-linejoin="round" stroke-linecap="round"/>
<rect x="442.00" y="246.60" width="95.00" height="21.40" rx="1.6" ry="1.6" fill="#fff" fill-opacity="0.8" stroke="#cccccc" stroke-width="0.8"/>
<line x1="444.40" y1="251.90" x2="459.40" y2="251.90" stroke="#1b70ad" stroke-width="1.5"/>
<line x1="444.40" y1="262.10" x2="459.40" y2="262.10" stroke="#f97b0c" stroke-width="1.5"/>
<text x="464.60" y="254.30" class="lg" textLength="64.40" lengthAdjust="spacingAndGlyphs">Training accuracy</text>
<text x="464.60" y="264.50" class="lg" textLength="69.80" lengthAdjust="spacingAndGlyphs">Validation accuracy</text>
<rect x="317.50" y="162.00" width="223.40" height="110.40" fill="none" stroke="#262626" stroke-width="1.05"/>
<line x1="313.70" y1="272.40" x2="317.50" y2="272.40" class="tk"/>
<text transform="translate(310.30,275.35) scale(1.05,1)" class="tl" text-anchor="end">0.0</text>
<line x1="313.70" y1="250.32" x2="317.50" y2="250.32" class="tk"/>
<text transform="translate(310.30,253.27) scale(1.05,1)" class="tl" text-anchor="end">0.2</text>
<line x1="313.70" y1="228.24" x2="317.50" y2="228.24" class="tk"/>
<text transform="translate(310.30,231.19) scale(1.05,1)" class="tl" text-anchor="end">0.4</text>
<line x1="313.70" y1="206.16" x2="317.50" y2="206.16" class="tk"/>
<text transform="translate(310.30,209.11) scale(1.05,1)" class="tl" text-anchor="end">0.6</text>
<line x1="313.70" y1="184.08" x2="317.50" y2="184.08" class="tk"/>
<text transform="translate(310.30,187.03) scale(1.05,1)" class="tl" text-anchor="end">0.8</text>
<line x1="313.70" y1="162.00" x2="317.50" y2="162.00" class="tk"/>
<text transform="translate(310.30,164.95) scale(1.05,1)" class="tl" text-anchor="end">1.0</text>
<line x1="322.20" y1="272.40" x2="322.20" y2="276.10" class="tk"/>
<text transform="translate(322.20,285.10) scale(1.07,1)" class="tl" text-anchor="middle">0</text>
<line x1="336.78" y1="272.40" x2="336.78" y2="276.10" class="tk"/>
<text transform="translate(336.78,285.10) scale(1.07,1)" class="tl" text-anchor="middle">20</text>
<line x1="351.36" y1="272.40" x2="351.36" y2="276.10" class="tk"/>
<text transform="translate(351.36,285.10) scale(1.07,1)" class="tl" text-anchor="middle">40</text>
<line x1="365.94" y1="272.40" x2="365.94" y2="276.10" class="tk"/>
<text transform="translate(365.94,285.10) scale(1.07,1)" class="tl" text-anchor="middle">60</text>
<line x1="380.52" y1="272.40" x2="380.52" y2="276.10" class="tk"/>
<text transform="translate(380.52,285.10) scale(1.07,1)" class="tl" text-anchor="middle">80</text>
<line x1="395.10" y1="272.40" x2="395.10" y2="276.10" class="tk"/>
<text transform="translate(395.10,285.10) scale(1.07,1)" class="tl" text-anchor="middle">100</text>
<line x1="409.68" y1="272.40" x2="409.68" y2="276.10" class="tk"/>
<text transform="translate(409.68,285.10) scale(1.07,1)" class="tl" text-anchor="middle">120</text>
<line x1="424.26" y1="272.40" x2="424.26" y2="276.10" class="tk"/>
<text transform="translate(424.26,285.10) scale(1.07,1)" class="tl" text-anchor="middle">140</text>
<line x1="438.84" y1="272.40" x2="438.84" y2="276.10" class="tk"/>
<text transform="translate(438.84,285.10) scale(1.07,1)" class="tl" text-anchor="middle">160</text>
<line x1="453.42" y1="272.40" x2="453.42" y2="276.10" class="tk"/>
<text transform="translate(453.42,285.10) scale(1.07,1)" class="tl" text-anchor="middle">180</text>
<line x1="468.00" y1="272.40" x2="468.00" y2="276.10" class="tk"/>
<text transform="translate(468.00,285.10) scale(1.07,1)" class="tl" text-anchor="middle">200</text>
<line x1="482.58" y1="272.40" x2="482.58" y2="276.10" class="tk"/>
<text transform="translate(482.58,285.10) scale(1.07,1)" class="tl" text-anchor="middle">220</text>
<line x1="497.16" y1="272.40" x2="497.16" y2="276.10" class="tk"/>
<text transform="translate(497.16,285.10) scale(1.07,1)" class="tl" text-anchor="middle">240</text>
<line x1="511.74" y1="272.40" x2="511.74" y2="276.10" class="tk"/>
<text transform="translate(511.74,285.10) scale(1.07,1)" class="tl" text-anchor="middle">260</text>
<line x1="526.32" y1="272.40" x2="526.32" y2="276.10" class="tk"/>
<text transform="translate(526.32,285.10) scale(1.07,1)" class="tl" text-anchor="middle">280</text>
<line x1="540.90" y1="272.40" x2="540.90" y2="276.10" class="tk"/>
<text transform="translate(540.90,285.10) scale(1.07,1)" class="tl" text-anchor="middle">300</text>
<text transform="translate(293.00,216.80) rotate(-90)" class="yl" text-anchor="middle" textLength="32.3" lengthAdjust="spacingAndGlyphs">Accuracy</text>

<text x="151.6" y="15.3" class="tt">noC<tspan class="sub" dy="2.2" dx="0.9">th</tspan></text>
<text x="423.8" y="15.3" class="tt" style="font-size:15.8px">withC<tspan class="sub" dy="2.2" dx="1.0">th</tspan></text>
<text transform="translate(16.2,99.6) rotate(-90) scale(1,1.05)" class="sd" style="font-size:17px" textLength="44" lengthAdjust="spacingAndGlyphs">noVIs</text>
<text transform="translate(16.7,234.9) rotate(-90) scale(1,1.08)" class="sd" style="font-size:16px" textLength="53.2" lengthAdjust="spacingAndGlyphs">withVIs</text>
<line x1="281.3" y1="0" x2="281.3" y2="131" stroke="#f3f3f3" stroke-width="0.8"/>

</g>
</svg>
</body></html>
